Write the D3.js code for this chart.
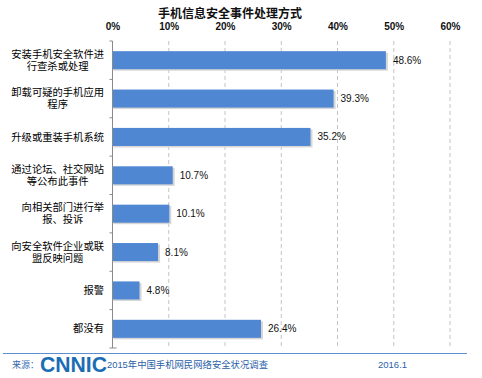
<!DOCTYPE html>
<html><head><meta charset="utf-8">
<script src="https://cdn.jsdelivr.net/npm/d3@7"></script>
<style>body{margin:0;background:#fff}svg{display:block}</style>
</head><body>
<script>
const categories = [
  ["安装手机安全软件进","行查杀或处理"],
  ["卸载可疑的手机应用","程序"],
  ["升级或重装手机系统"],
  ["通过论坛、社交网站","等公布此事件"],
  ["向相关部门进行举","报、投诉"],
  ["向安全软件企业或联","盟反映问题"],
  ["报警"],
  ["都没有"]
];
const values = [48.6, 39.3, 35.2, 10.7, 10.1, 8.1, 4.8, 26.4];
const xTicks = [0, 10, 20, 30, 40, 50, 60];
const title = "手机信息安全事件处理方式";

const W = 482, H = 378;
const svg = d3.select("body").append("svg").attr("width", W).attr("height", H);
const font = "'Liberation Sans', Arial, 'Noto Sans CJK SC', sans-serif";
const cjk = "'Liberation Sans', 'Noto Sans CJK SC', sans-serif";

const x = d3.scaleLinear().domain([0, 60]).range([112.5, 450]);
const y = d3.scaleBand().domain(d3.range(categories.length)).range([41, 348]).paddingInner(0.53).paddingOuter(0.265);
const yb = d3.scaleBand().domain(d3.range(categories.length)).range([41, 348]);

// title
svg.append("text").attr("x", 230).attr("y", 18).attr("text-anchor", "middle")
  .attr("font-family", cjk).attr("font-weight", "bold").attr("font-size", 12).attr("fill", "#111").text(title);

// gridlines
svg.append("g").selectAll("line").data(xTicks.filter(d => d > 0)).join("line")
  .attr("x1", d => x(d)).attr("x2", d => x(d)).attr("y1", 41).attr("y2", 348)
  .attr("stroke", "#c4c4c4").attr("stroke-width", 1).attr("stroke-dasharray", "4,3");

// top axis labels
const xAxis = d3.axisTop(x).tickValues(xTicks).tickFormat(d => d + "%").tickSize(0);
const gx = svg.append("g").attr("transform", "translate(0,33)").call(xAxis);
gx.select(".domain").remove();
gx.selectAll("text").attr("font-family", font).attr("font-weight", "bold").attr("font-size", 10).attr("fill", "#111");

// bars shadow
svg.append("g").selectAll("rect").data(values).join("rect")
  .attr("x", x(0) + 1).attr("y", (d, i) => y(i) + 1.5)
  .attr("width", d => x(d) - x(0) + 1).attr("height", y.bandwidth())
  .attr("fill", "#d6d6d6");
// bars
svg.append("g").selectAll("rect").data(values).join("rect")
  .attr("x", x(0)).attr("y", (d, i) => y(i))
  .attr("width", d => x(d) - x(0)).attr("height", y.bandwidth())
  .attr("fill", "#4f87d3");

// value labels
svg.append("g").selectAll("text").data(values).join("text")
  .attr("x", d => x(d) + 7).attr("y", (d, i) => y(i) + y.bandwidth() / 2 + 3.5)
  .attr("font-family", font).attr("font-size", 10).attr("fill", "#111")
  .text(d => d.toFixed(1) + "%");

// y axis line + ticks
const ya = svg.append("g");
ya.append("line").attr("x1", x(0)).attr("x2", x(0)).attr("y1", 41).attr("y2", 348)
  .attr("stroke", "#8a8a8a").attr("stroke-width", 1);
ya.selectAll("line.t").data(d3.range(categories.length + 1)).join("line").attr("class", "t")
  .attr("x1", x(0) - 3).attr("x2", x(0))
  .attr("y1", i => i < categories.length ? yb(i) : 348).attr("y2", i => i < categories.length ? yb(i) : 348)
  .attr("stroke", "#8a8a8a");
ya.append("line").attr("x1", x(0)).attr("x2", x(0) + 4).attr("y1", 348).attr("y2", 348).attr("stroke", "#8a8a8a");

// category labels
const fs = 10.3, lh = 12, rightEdge = 104;
categories.forEach((lines, i) => {
  const cy = yb(i) + yb.bandwidth() / 2;
  const maxLen = d3.max(lines, l => l.length);
  const cx = rightEdge - maxLen * fs / 2;
  const t = svg.append("text").attr("font-family", cjk).attr("font-size", fs).attr("fill", "#000")
    .attr("text-anchor", "middle");
  lines.forEach((l, k) => {
    t.append("tspan").attr("x", cx).attr("y", cy + (k - (lines.length - 1) / 2) * lh + 3.6).text(l);
  });
});

// footer
svg.append("line").attr("x1", 3).attr("x2", 467).attr("y1", 353.5).attr("y2", 353.5)
  .attr("stroke", "#5b8fd0").attr("stroke-width", 1);
svg.append("text").attr("x", 12).attr("y", 368).attr("font-family", cjk).attr("font-size", 9)
  .attr("fill", "#3a6cb0").text("来源：");
svg.append("text").attr("x", 40).attr("y", 372).attr("font-family", "'Liberation Sans', Arial, sans-serif")
  .attr("font-weight", "bold").attr("font-size", 22).attr("fill", "#1b6db4")
  .attr("textLength", 67).attr("lengthAdjust", "spacingAndGlyphs").text("CNNIC");
svg.append("text").attr("x", 107).attr("y", 368).attr("font-family", cjk).attr("font-size", 9.5)
  .attr("fill", "#2b5fa8").attr("textLength", 161).attr("lengthAdjust", "spacingAndGlyphs").text("2015年中国手机网民网络安全状况调查");
svg.append("text").attr("x", 378).attr("y", 368).attr("font-family", font).attr("font-size", 9.5)
  .attr("fill", "#2b5fa8").text("2016.1");
</script>
</body></html>
